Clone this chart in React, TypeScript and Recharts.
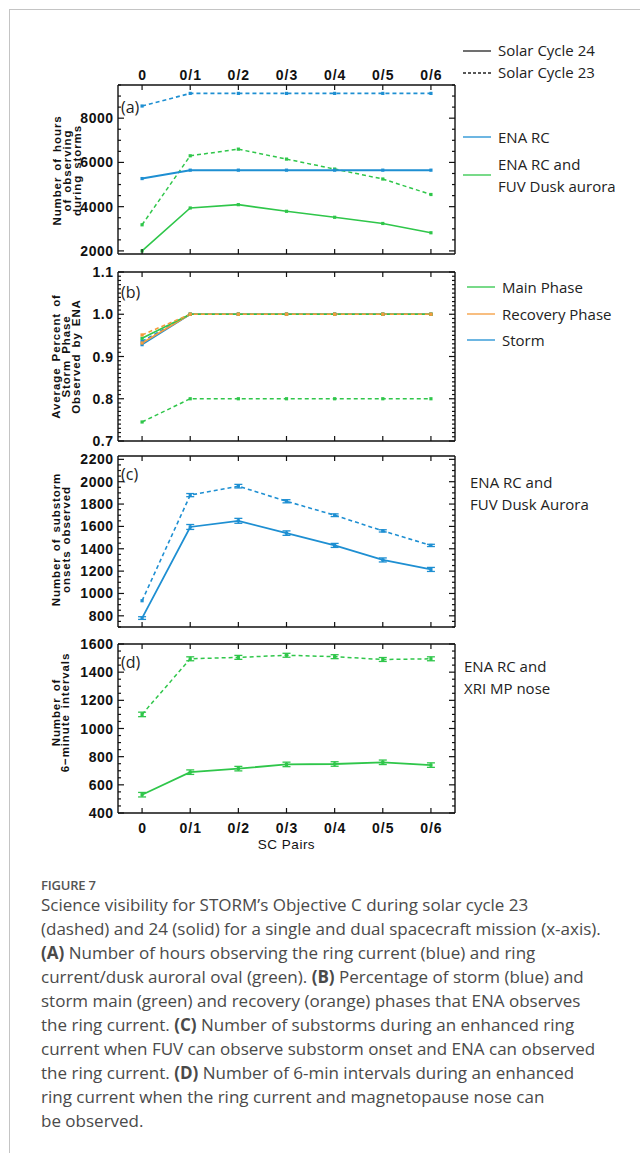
import React from 'react'
import { LineChart, Line, XAxis, YAxis, ErrorBar, Label } from 'recharts'

// x-axis categories (spacecraft pairs)
const pairs = ['0', '0/1', '0/2', '0/3', '0/4', '0/5', '0/6']

// (a) hours observing during storms
const hoursEnaSc24 = [5270, 5650, 5650, 5650, 5650, 5650, 5650]
const hoursEnaSc23 = [8550, 9120, 9120, 9120, 9120, 9120, 9120]
const hoursFuvSc24 = [2000, 3940, 4090, 3790, 3520, 3240, 2820]
const hoursFuvSc23 = [3180, 6300, 6600, 6150, 5700, 5250, 4550]
const hoursTicks = [2000, 4000, 6000, 8000]

// (b) average percent of storm phase observed by ENA
const stormSc24 = [0.928, 1.0, 1.0, 1.0, 1.0, 1.0, 1.0]
const stormSc23 = [0.936, 1.0, 1.0, 1.0, 1.0, 1.0, 1.0]
const mainSc24 = [0.943, 1.0, 1.0, 1.0, 1.0, 1.0, 1.0]
const mainSc23 = [0.745, 0.8, 0.8, 0.8, 0.8, 0.8, 0.8]
const recoverySc24 = [0.932, 1.0, 1.0, 1.0, 1.0, 1.0, 1.0]
const recoverySc23 = [0.951, 1.0, 1.0, 1.0, 1.0, 1.0, 1.0]
const percentTicks = [0.7, 0.8, 0.9, 1.0, 1.1]

// (c) substorm onsets observed
const onsetsSc24 = [780, 1595, 1650, 1540, 1430, 1300, 1215]
const onsetsSc24Err = [12, 22, 22, 20, 18, 18, 18]
const onsetsSc23 = [935, 1880, 1960, 1825, 1700, 1560, 1430]
const onsetsSc23Err = [0, 14, 16, 14, 12, 10, 10]
const onsetsTicks = [800, 1000, 1200, 1400, 1600, 1800, 2000, 2200]

// (d) 6-minute intervals
const intervalsSc24 = [530, 690, 715, 745, 748, 760, 740]
const intervalsSc24Err = [16, 16, 16, 16, 16, 16, 16]
const intervalsSc23 = [1100, 1495, 1505, 1520, 1510, 1490, 1495]
const intervalsSc23Err = [16, 14, 14, 14, 14, 14, 14]
const intervalsTicks = [400, 600, 800, 1000, 1200, 1400, 1600]

const BLUE = '#1e8fd2'
const GREEN = '#2fc64a'
const ORANGE = '#f59b3c'
const INK = '#111'

const BOX_LEFT = 118
const BOX_RIGHT = 455
const PAD = 40
const TM = 5

const tickFont = {
  fontFamily: '"Liberation Sans", Arial, sans-serif',
  fontSize: 14,
  fontWeight: 700,
  fill: INK,
}
const titleFont = {
  fontFamily: '"Liberation Sans", Arial, sans-serif',
  fontSize: 11.5,
  fontWeight: 700,
  fill: INK,
  letterSpacing: 0.9,
  wordSpacing: 2,
}
const textFont = '"Open Sans", "Noto Sans", sans-serif'

type Series = {
  values: number[]
  err?: number[]
  color: string
  dashed?: boolean
  width?: number
}

type PanelProps = {
  boxTop: number
  boxH: number
  domain: [number, number]
  majors: number[]
  minorStep: number
  fmt: (v: number) => string
  series: Series[]
  title: string[]
  titleXs: number[]
  titleDy: number
  letter: string
  letterY: number
  topLabels?: boolean
  bottomLabels?: boolean
}

function minorTicks(domain: [number, number], step: number) {
  const out: number[] = []
  const start = Math.ceil(domain[0] / step - 1e-9) * step
  for (let v = start; v <= domain[1] + 1e-9; v += step) out.push(Math.round(v * 1000) / 1000)
  return out
}

const isMajor = (majors: number[], v: number) => majors.some(m => Math.abs(m - v) < 1e-6)

function yTick(side: 'left' | 'right', majors: number[], fmt: (v: number) => string, labels: boolean) {
  return (props: any) => {
    const { x, y, payload } = props
    const v = payload.value
    const major = isMajor(majors, v)
    const len = major ? 6 : 3
    const dir = side === 'left' ? 1 : -1
    const ax = x + dir * TM
    return (
      <g>
        <line x1={ax} x2={ax + dir * len} y1={y} y2={y} stroke={INK} strokeWidth={1.2} />
        {labels && major && (
          <text x={x + 0.5} y={y} dy={5} textAnchor="end" {...tickFont} letterSpacing={0.5}>
            {fmt(v)}
          </text>
        )}
      </g>
    )
  }
}

function xTick(side: 'top' | 'bottom', labels: boolean) {
  return (props: any) => {
    const { x, y, payload } = props
    const dir = side === 'top' ? 1 : -1
    const ay = y + dir * TM
    return (
      <g>
        <line x1={x} x2={x} y1={ay} y2={ay + dir * 5} stroke={INK} strokeWidth={1.2} />
        {labels && (
          <text
            x={x + 0.5}
            y={y}
            dy={side === 'top' ? 0 : 15}
            textAnchor="middle"
            {...tickFont}
            letterSpacing={1}
          >
            {pairs[payload.value]}
          </text>
        )}
      </g>
    )
  }
}

const squareDot = (color: string) => (p: any) => {
  if (p.cx == null || p.cy == null) return <g key={p.index} />
  return <rect key={p.index} x={p.cx - 1.6} y={p.cy - 1.6} width={3.2} height={3.2} fill={color} />
}

function Panel(props: PanelProps) {
  const { boxTop, boxH, domain, majors, minorStep, fmt, series, title, titleXs, titleDy, letter, letterY } = props
  const rows = pairs.map((_, i) => {
    const row: Record<string, number> = { x: i }
    series.forEach((s, k) => {
      row['s' + k] = s.values[i]
      if (s.err) row['e' + k] = s.err[i]
    })
    return row
  })
  const yTicks = minorTicks(domain, minorStep)
  const xTicks = pairs.map((_, i) => i)
  const axisLine = { stroke: INK, strokeWidth: 1.4 }

  return (
    <div style={{ position: 'absolute', left: 0, top: boxTop - PAD }}>
      <LineChart
        width={640}
        height={boxH + PAD * 2}
        data={rows}
        margin={{ top: PAD - 1, bottom: PAD - 1, left: BOX_LEFT - 1, right: 640 - BOX_RIGHT - 1 }}
      >
        <XAxis
          xAxisId={0}
          dataKey="x"
          type="number"
          domain={[-0.5, 6.5]}
          ticks={xTicks}
          interval={0}
          height={1}
          tickSize={0}
          tickMargin={TM}
          tickLine={false}
          axisLine={axisLine}
          tick={xTick('bottom', !!props.bottomLabels)}
        >
          {props.bottomLabels && (
            <Label
              content={(lp: any) => {
                const vb = lp.viewBox
                return (
                  <text
                    x={vb.x + vb.width / 2}
                    y={vb.y + 36}
                    textAnchor="middle"
                    {...tickFont}
                    fontSize={13.5}
                    fontWeight={400}
                    letterSpacing={0.5}
                  >
                    SC Pairs
                  </text>
                )
              }}
            />
          )}
        </XAxis>
        <XAxis
          xAxisId="top"
          orientation="top"
          dataKey="x"
          type="number"
          domain={[-0.5, 6.5]}
          ticks={xTicks}
          interval={0}
          height={1}
          tickSize={0}
          tickMargin={TM}
          tickLine={false}
          axisLine={axisLine}
          tick={xTick('top', !!props.topLabels)}
        />
        <YAxis
          yAxisId={0}
          type="number"
          domain={domain}
          ticks={yTicks}
          interval={0}
          width={1}
          tickSize={0}
          tickMargin={TM}
          tickLine={false}
          allowDataOverflow
          axisLine={axisLine}
          tick={yTick('left', majors, fmt, true)}
        >
          <Label
            content={(lp: any) => {
              const vb = lp.viewBox
              const cy = vb.y + vb.height / 2 + titleDy
              return (
                <g>
                  {title.map((line, i) => {
                    const cx = BOX_LEFT + titleXs[i]
                    return (
                      <text
                        key={i}
                        x={cx}
                        y={cy}
                        dy={4}
                        textAnchor="middle"
                        transform={`rotate(-90 ${cx} ${cy})`}
                        {...titleFont}
                      >
                        {line}
                      </text>
                    )
                  })}
                </g>
              )
            }}
          />
          <Label
            content={(lp: any) => {
              const vb = lp.viewBox
              return (
                <text x={BOX_LEFT + 3} y={vb.y + letterY} fontFamily={textFont} fontSize={16} fill="#222">
                  {letter}
                </text>
              )
            }}
          />
        </YAxis>
        <YAxis
          yAxisId="right"
          orientation="right"
          type="number"
          domain={domain}
          ticks={yTicks}
          interval={0}
          width={1}
          tickSize={0}
          tickMargin={TM}
          tickLine={false}
          allowDataOverflow
          axisLine={axisLine}
          tick={yTick('right', majors, fmt, false)}
        />
        {series.map((s, k) => (
          <Line
            key={k}
            dataKey={'s' + k}
            stroke={s.color}
            strokeWidth={s.width ?? 1.6}
            strokeDasharray={s.dashed ? '4 3' : undefined}
            dot={squareDot(s.color)}
            activeDot={false}
            isAnimationActive={false}
          >
            {s.err && (
              <ErrorBar
                dataKey={'e' + k}
                width={4}
                stroke={s.color}
                strokeWidth={1.3}
                direction="y"
                isAnimationActive={false}
              />
            )}
          </Line>
        ))}
      </LineChart>
    </div>
  )
}

function LegendLine({ x, y, color, dashed }: { x: number; y: number; color: string; dashed?: boolean }) {
  return (
    <svg style={{ position: 'absolute', left: x, top: y - 2 }} width={30} height={4}>
      <line x1={0} x2={28} y1={2} y2={2} stroke={color} strokeWidth={1.3} strokeDasharray={dashed ? '3 2' : undefined} />
    </svg>
  )
}

function LegendText({ x, y, children }: { x: number; y: number; children: React.ReactNode }) {
  return (
    <div
      style={{
        position: 'absolute',
        left: x,
        top: y - 11,
        fontFamily: textFont,
        fontSize: 15,
        lineHeight: '22px',
        color: '#222',
        whiteSpace: 'nowrap',
      }}
    >
      {children}
    </div>
  )
}

const captionLines: React.ReactNode[] = [
  <>Science visibility for STORM’s Objective C during solar cycle 23</>,
  <>(dashed) and 24 (solid) for a single and dual spacecraft mission (x-axis).</>,
  <><b>(A)</b> Number of hours observing the ring current (blue) and ring</>,
  <>current/dusk auroral oval (green). <b>(B)</b> Percentage of storm (blue) and</>,
  <>storm main (green) and recovery (orange) phases that ENA observes</>,
  <>the ring current. <b>(C)</b> Number of substorms during an enhanced ring</>,
  <>current when FUV can observe substorm onset and ENA can observed</>,
  <>the ring current. <b>(D)</b> Number of 6-min intervals during an enhanced</>,
  <>ring current when the ring current and magnetopause nose can</>,
  <>be observed.</>,
]

export default function App() {
  const int = (v: number) => String(Math.round(v))
  const one = (v: number) => v.toFixed(1)
  return (
    <div style={{ position: 'absolute', left: 0, top: 0, width: 640, height: 1153, background: '#fff', overflow: 'hidden' }}>
      <div
        style={{
          position: 'absolute',
          left: 9,
          top: 9,
          width: 640,
          height: 1160,
          borderLeft: '1px solid #c4c4c4',
          borderTop: '1px solid #c4c4c4',
        }}
      />

      <Panel
        boxTop={85}
        boxH={169}
        domain={[1860, 9500]}
        majors={hoursTicks}
        minorStep={500}
        fmt={int}
        topLabels
        series={[
          { values: hoursFuvSc23, color: GREEN, dashed: true, width: 1.5 },
          { values: hoursFuvSc24, color: GREEN, width: 1.6 },
          { values: hoursEnaSc23, color: BLUE, dashed: true, width: 1.6 },
          { values: hoursEnaSc24, color: BLUE, width: 2 },
        ]}
        title={['Number of hours', 'of observing', 'during storms']}
        titleXs={[-61, -51, -41]}
        titleDy={1}
        letter="(a)"
        letterY={28}
      />

      <Panel
        boxTop={272}
        boxH={169}
        domain={[0.7, 1.1]}
        majors={percentTicks}
        minorStep={0.01}
        fmt={one}
        series={[
          { values: stormSc24, color: BLUE, width: 1.6 },
          { values: stormSc23, color: BLUE, dashed: true, width: 1.5 },
          { values: recoverySc24, color: ORANGE, width: 1.6 },
          { values: mainSc24, color: GREEN, width: 1.6 },
          { values: recoverySc23, color: ORANGE, dashed: true, width: 1.6 },
          { values: mainSc23, color: GREEN, dashed: true, width: 1.5 },
        ]}
        title={['Average Percent of', 'Storm Phase', 'Observed by ENA']}
        titleXs={[-62, -52, -42]}
        titleDy={0}
        letter="(b)"
        letterY={26}
      />

      <Panel
        boxTop={456}
        boxH={171}
        domain={[700, 2230]}
        majors={onsetsTicks}
        minorStep={50}
        fmt={int}
        series={[
          { values: onsetsSc23, err: onsetsSc23Err, color: BLUE, dashed: true, width: 1.6 },
          { values: onsetsSc24, err: onsetsSc24Err, color: BLUE, width: 1.8 },
        ]}
        title={['Number of substorm', 'onsets observed']}
        titleXs={[-62, -52]}
        titleDy={-2}
        letter="(c)"
        letterY={24}
      />

      <Panel
        boxTop={644}
        boxH={169}
        domain={[400, 1600]}
        majors={intervalsTicks}
        minorStep={50}
        fmt={int}
        bottomLabels
        series={[
          { values: intervalsSc23, err: intervalsSc23Err, color: GREEN, dashed: true, width: 1.5 },
          { values: intervalsSc24, err: intervalsSc24Err, color: GREEN, width: 1.8 },
        ]}
        title={['Number of', '6\u2212minute intervals']}
        titleXs={[-62, -53]}
        titleDy={-16}
        letter="(d)"
        letterY={24}
      />

      {/* legend (a) */}
      <LegendLine x={463} y={51} color="#222" />
      <LegendText x={498} y={50}>Solar Cycle 24</LegendText>
      <LegendLine x={463} y={73} color="#222" dashed />
      <LegendText x={498} y={72}>Solar Cycle 23</LegendText>
      <LegendLine x={463} y={137} color={BLUE} />
      <LegendText x={498} y={137}>ENA RC</LegendText>
      <LegendLine x={463} y={175} color={GREEN} />
      <LegendText x={498} y={164}>ENA RC and</LegendText>
      <LegendText x={498} y={186}>FUV Dusk aurora</LegendText>

      {/* legend (b) */}
      <LegendLine x={467} y={287} color={GREEN} />
      <LegendText x={502} y={287}>Main Phase</LegendText>
      <LegendLine x={467} y={314} color={ORANGE} />
      <LegendText x={502} y={314}>Recovery Phase</LegendText>
      <LegendLine x={467} y={340} color={BLUE} />
      <LegendText x={502} y={340}>Storm</LegendText>

      {/* legend (c) */}
      <LegendText x={470} y={482}>ENA RC and</LegendText>
      <LegendText x={470} y={504}>FUV Dusk Aurora</LegendText>

      {/* legend (d) */}
      <LegendText x={464} y={666}>ENA RC and</LegendText>
      <LegendText x={464} y={688}>XRI MP nose</LegendText>

      {/* caption */}
      <div
        style={{
          position: 'absolute',
          left: 41,
          top: 876,
          fontFamily: textFont,
          fontSize: 13,
          fontWeight: 600,
          color: '#555',
          letterSpacing: -0.2,
        }}
      >
        FIGURE 7
      </div>
      <div
        style={{
          position: 'absolute',
          left: 41,
          top: 893,
          fontFamily: textFont,
          fontSize: 17,
          lineHeight: '24px',
          color: '#4a4a4a',
          whiteSpace: 'nowrap',
        }}
      >
        {captionLines.map((l, i) => (
          <div key={i}>{l}</div>
        ))}
      </div>
    </div>
  )
}
